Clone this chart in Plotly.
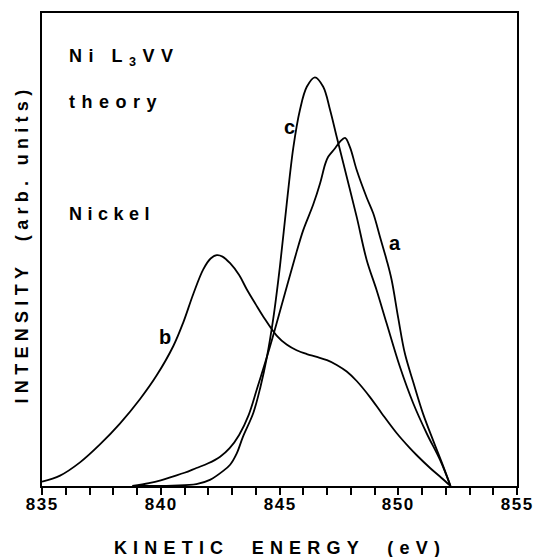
import plotly.graph_objects as go

# ---- data ----
a_x = [838.8, 839.5, 840.0, 840.5, 841.0, 841.5, 842.0, 842.5, 842.9, 843.3, 843.7, 844.05,
       844.6, 845.16, 845.72, 846.0, 846.42, 846.71, 846.92, 847.05, 847.34, 847.55, 847.76,
       847.97, 848.25, 848.67, 848.95, 849.23, 849.51, 849.72, 850.0, 850.28, 850.63, 851.05,
       851.48, 851.9, 852.2]
a_y = [0.0, 0.6, 1.2, 2.0, 2.8, 3.8, 4.8, 6.2, 8.0, 10.8, 15.0, 20.5,
       29.5, 39.5, 49.5, 54.1, 59.5, 64.0, 68.0, 69.6, 71.4, 72.8, 73.6,
       71.6, 66.8, 61.0, 57.6, 52.7, 47.8, 43.6, 35.5, 28.0, 22.0, 15.2,
       9.5, 4.1, 0.0]

b_x = [835.0, 835.76, 836.6, 837.44, 838.28, 839.13, 839.83, 840.53, 840.95, 841.37, 841.79,
       842.1, 842.36, 842.6, 842.92, 843.3, 843.62, 844.0, 844.32, 844.88, 845.3, 845.72,
       846.15, 846.57, 847.0, 847.41, 847.83, 848.25, 848.81, 849.3, 849.93, 850.49, 850.78,
       851.34, 851.8, 852.2]
b_y = [0.9, 2.2, 5.0, 8.8, 13.2, 18.4, 23.4, 29.6, 34.6, 40.6, 45.8,
       48.1, 48.8, 48.5, 47.1, 44.6, 41.6, 38.4, 35.8, 31.8, 29.9, 28.7,
       27.9, 27.3, 26.6, 25.6, 24.2, 22.2, 18.8, 15.4, 11.2, 8.0, 6.5,
       3.8, 1.8, 0.0]

c_x = [839.0, 840.5, 841.5, 842.07, 842.63, 842.92, 843.2, 843.46, 843.9, 844.2, 844.46,
       844.74, 845.02, 845.30, 845.58, 845.86, 846.15, 846.49, 846.84, 847.13, 847.41, 847.83,
       848.25, 848.67, 849.09, 849.51, 850.07, 850.63, 851.2, 851.76, 852.2]
c_y = [0.0, 0.1, 0.4, 1.3, 3.2, 4.5, 6.9, 10.4, 15.5, 21.0, 27.0,
       35.5, 46.5, 59.5, 71.5, 79.5, 84.4, 86.4, 84.4, 79.5, 73.8, 65.4,
       56.9, 47.8, 41.4, 34.4, 25.2, 17.5, 11.1, 5.5, 0.0]

curve_labels = ["a", "b", "c"]
label_x = [849.86, 840.18, 845.44]
label_y = [51.3, 31.4, 76.0]

x_tickvals = [835, 840, 845, 850, 855]
x_ticktext = ["835", "840", "845", "850", "855"]

FONT = "Liberation Sans, Arial, Helvetica, sans-serif"

fig = go.Figure()
for xs, ys in [(a_x, a_y), (b_x, b_y), (c_x, c_y)]:
    fig.add_trace(go.Scatter(x=xs, y=ys, mode="lines",
                             line=dict(color="black", width=1.8, shape="spline", smoothing=1.0),
                             showlegend=False, hoverinfo="skip"))

annotations = []
for t, lx, ly in zip(curve_labels, label_x, label_y):
    annotations.append(dict(x=lx, y=ly, xref="x", yref="y", text=t, showarrow=False,
                            xanchor="center", yanchor="middle",
                            font=dict(family=FONT, size=20, color="black", weight="bold")))

for txt, py in [("Ni L<sub>3</sub>VV", 57), ("theory", 102), ("Nickel", 214)]:
    annotations.append(dict(x=(67 - 42) / 475, y=(486 - py) / 473, xref="paper", yref="paper",
                            text=txt, showarrow=False, xanchor="left", yanchor="middle",
                            align="left",
                            font=dict(family=FONT, size=18, color="black", weight="bold")))

# x tick labels (placed on the x scale, just below the axis)
for tv, tt in zip(x_tickvals, x_ticktext):
    annotations.append(dict(x=tv, y=(486 - 504) / 473, xref="x", yref="paper", text=tt,
                            showarrow=False, xanchor="center", yanchor="middle",
                            font=dict(family=FONT, size=17, color="black", weight="bold")))

annotations.append(dict(x=0.5, y=(486 - 548) / 473, xref="paper", yref="paper",
                        text="KINETIC\u00a0\u00a0ENERGY\u00a0\u00a0(eV)", showarrow=False,
                        xanchor="center", yanchor="middle",
                        font=dict(family=FONT, size=18, color="black", weight="bold")))
annotations.append(dict(x=(21.5 - 42) / 475, y=(486 - 244) / 473, xref="paper", yref="paper",
                        text="INTENSITY\u00a0\u00a0(arb. units)", showarrow=False, textangle=-90,
                        xanchor="center", yanchor="middle",
                        font=dict(family=FONT, size=18, color="black", weight="bold")))

fig.update_layout(
    template="none",
    width=535, height=557,
    margin=dict(l=42, r=18, t=13, b=71, autoexpand=False),
    paper_bgcolor="white", plot_bgcolor="white",
    annotations=annotations,
    xaxis=dict(range=[835, 855], showgrid=False, zeroline=False, automargin=False,
               showline=True, linecolor="black", linewidth=1.6, mirror=True,
               ticks="outside", ticklen=7, tickwidth=1.5, tickcolor="black",
               tickmode="array", tickvals=x_tickvals, showticklabels=False,
               minor=dict(dtick=1, ticks="outside", ticklen=7, tickwidth=1.5,
                          tickcolor="black", showgrid=False)),
    yaxis=dict(range=[0, 100], showgrid=False, zeroline=False, showticklabels=False,
               automargin=False,
               showline=True, linecolor="black", linewidth=1.6, mirror=True, ticks=""),
)

post = """
var gd = document.getElementById('{plot_id}');
gd.querySelectorAll('.annotation-text').forEach(function(t){
  var s = t.textContent;
  var n = s.length;
  if (n <= 1) { return; }
  if (/^[0-9]{3}$/.test(s)) { t.style.letterSpacing = '1.5px'; }
  else if (s.indexOf('KINETIC') === 0) { t.style.letterSpacing = '6.2px'; }
  else if (s.indexOf('INTENSITY') === 0) { t.style.letterSpacing = '5.3px'; }
  else if (s.indexOf('Nickel') === 0) { t.style.letterSpacing = '5.5px'; }
  else { t.style.letterSpacing = '6.5px'; }
});
"""

fig.write_html("out.html", post_script=post)
